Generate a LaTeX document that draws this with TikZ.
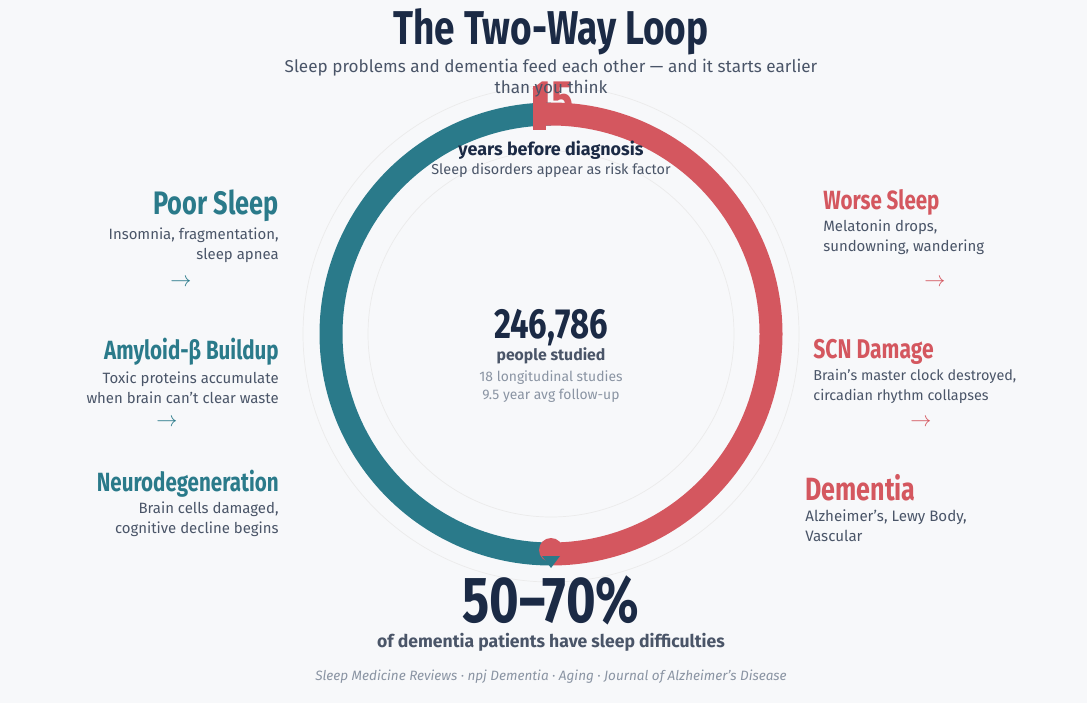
\documentclass[tikz,border=0pt]{standalone}
\usepackage{fontspec}
\setmainfont{Fira Sans}
\newfontfamily\headfont[FakeStretch=0.78]{Fira Sans}
\usepackage{tikz}
\usepackage{xcolor}
\definecolor{teal}{HTML}{2A7A8A}
\definecolor{coral}{HTML}{D4575F}
\definecolor{navy}{HTML}{1B2A45}
\definecolor{slate}{HTML}{4A5568}
\definecolor{mist}{HTML}{8A94A3}
\definecolor{paper}{HTML}{F7F8FA}
\tikzset{
  head/.style={font=\headfont\bfseries\fontsize{15}{17}\selectfont, inner sep=0pt},
  body/.style={font=\fontsize{8.5}{11.4}\selectfont, text=slate, inner sep=0pt},
  arrowmark/.style={font=\fontsize{13}{13}\selectfont, inner sep=0pt}
}
\begin{document}
\begin{tikzpicture}[x=0.02cm,y=-0.02cm]
% background and bounds
\fill[paper] (0,0) rectangle (1087,703);
\useasboundingbox (0,0) rectangle (1087,703);

% faint guide circles
\draw[black!8] (551,334) circle (248);
\draw[black!8] (551,334) circle (183);

% the "15" sits behind the ring
\node[font=\headfont\bfseries\fontsize{30}{30}\selectfont, text=coral] (fifteen) at (553,100) {15};

% the loop: teal down the left, coral down the right
\draw[teal, line width=23*0.02cm] (551,114) arc[start angle=270, end angle=90, radius=220];
\draw[coral, line width=23*0.02cm] (540,114) -- (551,114) arc[start angle=270, end angle=450, radius=220];
\fill[coral] (533,86) rectangle (546,130);
\fill[coral] (551,550) circle (12);
\fill[teal] (542,556) -- (560,556) -- (551,568) -- cycle;

% title
\node[font=\headfont\bfseries\fontsize{27}{29}\selectfont, text=navy] (title) at (551,32) {The Two-Way Loop};
\node[body, font=\fontsize{9.75}{12}\selectfont, align=center] (subtitle) at (551,78)
  {Sleep problems and dementia feed each other — and it starts earlier\\than you think};

% top stat
\node[font=\bfseries\fontsize{10.2}{12}\selectfont, text=navy] (years) at (551,150) {years before diagnosis};
\node[body, font=\fontsize{8.2}{10}\selectfont] (risk) at (551,170) {Sleep disorders appear as risk factor};

% centre stat
\node[font=\headfont\bfseries\fontsize{24}{26}\selectfont, text=navy] (people) at (551,328) {246,786};
\node[font=\bfseries\fontsize{9}{11}\selectfont, text=slate] (studied) at (551,356) {people studied};
\node[body, text=mist, align=center, font=\fontsize{7.9}{10.3}\selectfont, anchor=north] (studies) at (551,370) {18 longitudinal studies\\9.5 year avg follow-up};

% left side: sleep to dementia
\node[head, text=teal, anchor=east, font=\headfont\bfseries\fontsize{18.5}{20}\selectfont] (poor) at (279,206) {Poor Sleep};
\node[body, anchor=north east, align=right] (poortxt) at (279,227) {Insomnia, fragmentation,\\sleep apnea};
\node[arrowmark, text=teal] (arrA) at (181,283) {$\rightarrow$};
\node[head, text=teal, anchor=east] (amyloid) at (279,352) {Amyloid-β Buildup};
\node[body, anchor=north east, align=right] (amytxt) at (279,371) {Toxic proteins accumulate\\when brain can't clear waste};
\node[arrowmark, text=teal] (arrB) at (167,423) {$\rightarrow$};
\node[head, text=teal, anchor=east] (neuro) at (279,484) {Neurodegeneration};
\node[body, anchor=north east, align=right] (neurotxt) at (279,501) {Brain cells damaged,\\cognitive decline begins};

% right side: dementia to sleep
\node[head, text=coral, anchor=west] (worse) at (823,202) {Worse Sleep};
\node[body, anchor=north west, align=left] (worsetxt) at (823,219) {Melatonin drops,\\sundowning, wandering};
\node[arrowmark, text=coral] (arrC) at (935,283) {$\rightarrow$};
\node[head, text=coral, anchor=west, font=\headfont\bfseries\fontsize{15.4}{17}\selectfont] (scn) at (813,352) {SCN Damage};
\node[body, anchor=north west, align=left, font=\fontsize{8.2}{11.4}\selectfont] (scntxt) at (813,369) {Brain's master clock destroyed,\\circadian rhythm collapses};
\node[arrowmark, text=coral] (arrD) at (921,423) {$\rightarrow$};
\node[head, text=coral, anchor=west, font=\headfont\bfseries\fontsize{18.3}{20}\selectfont] (dementia) at (805,488) {Dementia};
\node[body, anchor=north west, align=left, font=\fontsize{8.6}{11.4}\selectfont] (demtxt) at (805,509) {Alzheimer's, Lewy Body,\\Vascular};

% bottom stat and sources
\node[font=\headfont\bfseries\fontsize{37}{37}\selectfont, text=navy] (share) at (551,600) {50–70\%};
\node[font=\bfseries\fontsize{10}{12}\selectfont, text=slate] (difficult) at (551,642) {of dementia patients have sleep difficulties};
\node[body, text=mist, font=\itshape\fontsize{7.7}{10}\selectfont] (sources) at (551,677) {Sleep Medicine Reviews · npj Dementia · Aging · Journal of Alzheimer's Disease};
\end{tikzpicture}
\end{document}
